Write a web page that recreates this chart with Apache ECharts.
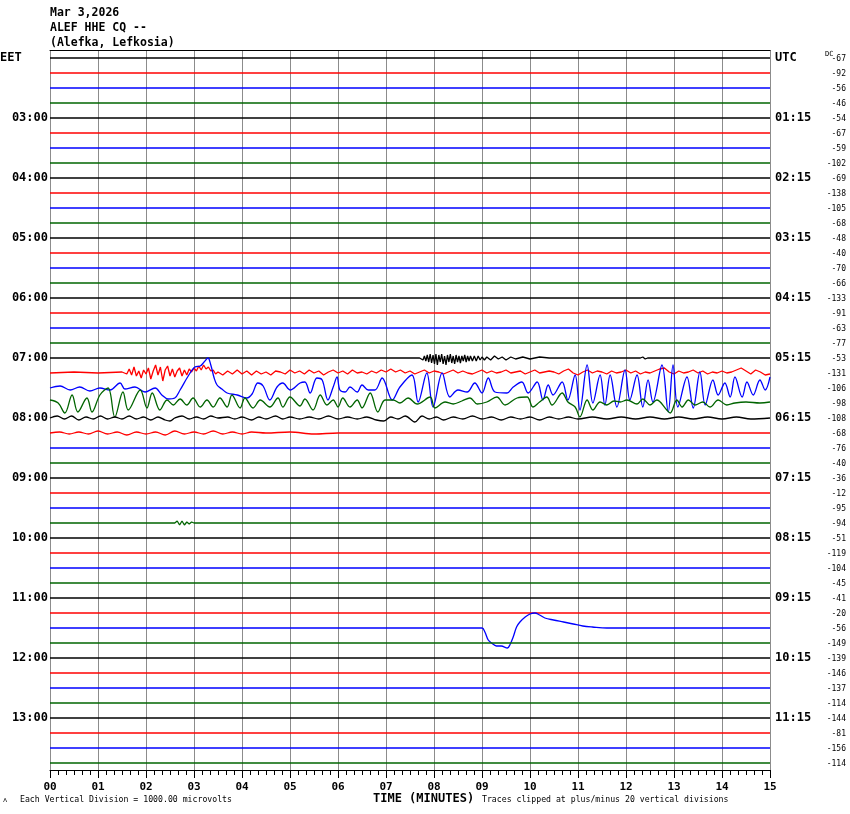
<!DOCTYPE html>
<html>
<head>
<meta charset="utf-8">
<script src="https://cdn.jsdelivr.net/npm/echarts@6/dist/echarts.min.js"></script>
<style>
html,body{margin:0;padding:0;background:#fff;}
#chart{width:850px;height:814px;}
</style>
</head>
<body>
<div id="chart"></div>
<script>
// ---------- DATA ----------
const titleLines = ['Mar 3,2026', 'ALEF HHE CQ --', '(Alefka, Lefkosia)'];
const eetLabels = ['EET', '03:00', '04:00', '05:00', '06:00', '07:00', '08:00', '09:00', '10:00', '11:00', '12:00', '13:00'];
const utcLabels = ['UTC', '01:15', '02:15', '03:15', '04:15', '05:15', '06:15', '07:15', '08:15', '09:15', '10:15', '11:15'];
const dcValues = [-67, -92, -56, -46, -54, -67, -59, -102, -69, -138, -105, -68,
  -48, -40, -70, -66, -133, -91, -63, -77, -53, -131, -106, -98,
  -108, -68, -76, -40, -36, -12, -95, -94, -51, -119, -104, -45,
  -41, -20, -56, -149, -139, -146, -137, -114, -144, -81, -156, -114];
const minuteLabels = ['00', '01', '02', '03', '04', '05', '06', '07', '08', '09', '10', '11', '12', '13', '14', '15'];
const traceCount = 48;
const quietTrace = [[0, 0], [15, 0]];

// deflections [minute, amplitude] (positive = up)
const trace0700black = [[0, 0], [7.7, 0], [7.74, 1], [7.77, -2], [7.8, 2], [7.83, -3], [7.86, 3], [7.89, -4], [7.92, 4], [7.95, -5], [7.98, 3], [8.01, -6], [8.04, 4], [8.07, -7], [8.1, 3], [8.13, -4], [8.16, 4], [8.19, -6], [8.22, 2], [8.25, -7], [8.28, 3], [8.31, -4], [8.34, 4], [8.37, -5], [8.4, 2], [8.43, -6], [8.46, 3], [8.49, -4], [8.52, 2], [8.55, -5], [8.58, 2], [8.61, -3], [8.64, 3], [8.67, -4], [8.7, 2], [8.73, -3], [8.76, 2], [8.8, -3], [8.84, 2], [8.88, -3], [8.92, 2], [8.96, -2], [9.0, 1], [9.05, -2], [9.1, 1], [9.18, -2], [9.26, 2], [9.34, -1], [9.42, 1], [9.5, -2], [9.6, 1], [9.7, -1], [9.85, 1], [10.0, -1], [10.2, 1], [10.4, 0], [12.3, 0], [12.35, 1], [12.4, -1], [12.45, 0], [15, 0]];
const trace0715red = [[0, 0], [0.5, 1], [1.0, 0], [1.5, 1], [1.6, -1], [1.65, 4], [1.7, -2], [1.75, 6], [1.8, -3], [1.85, 2], [1.9, -5], [1.95, 3], [2.0, -1], [2.05, 5], [2.1, -6], [2.15, 2], [2.2, 8], [2.25, -2], [2.3, 6], [2.35, -8], [2.4, 3], [2.45, 7], [2.5, -3], [2.55, 4], [2.6, -4], [2.65, 2], [2.7, 5], [2.75, -3], [2.8, 3], [2.85, -2], [2.9, 4], [2.95, 1], [3.0, 5], [3.05, 2], [3.1, 7], [3.15, 3], [3.2, 8], [3.25, 4], [3.3, 6], [3.35, 2], [3.4, 3], [3.45, -1], [3.5, 1], [3.6, -2], [3.7, 2], [3.8, -1], [3.9, 3], [4.0, -1], [4.1, 2], [4.2, -2], [4.3, 2], [4.4, -1], [4.5, 1], [4.6, -2], [4.7, 2], [4.8, 1], [4.9, -1], [5.0, 3], [5.1, 0], [5.2, 2], [5.3, -1], [5.4, 3], [5.5, 0], [5.6, 2], [5.7, -2], [5.8, 1], [5.9, 3], [6.0, 0], [6.1, 2], [6.2, -1], [6.3, 3], [6.4, 0], [6.5, 1], [6.6, -1], [6.7, 2], [6.8, 0], [6.9, 3], [7.0, 1], [7.1, 4], [7.2, 1], [7.3, 3], [7.4, 0], [7.5, 2], [7.6, -1], [7.7, 1], [7.8, 3], [7.9, 0], [8.0, 2], [8.1, 1], [8.2, -1], [8.3, 1], [8.4, 3], [8.5, 0], [8.6, 2], [8.7, 0], [8.8, -1], [8.9, 1], [9.0, 3], [9.1, 0], [9.2, 2], [9.3, 0], [9.4, 1], [9.5, 3], [9.6, 0], [9.8, 2], [9.9, -1], [10.0, 1], [10.1, 3], [10.2, 0], [10.4, 2], [10.5, 1], [10.6, -1], [10.7, 2], [10.8, 4], [10.9, 0], [11.0, -2], [11.1, 1], [11.2, 3], [11.3, 0], [11.4, 2], [11.5, 1], [11.6, -1], [11.7, 2], [11.8, 0], [11.9, 1], [12.0, 3], [12.1, 0], [12.2, 2], [12.3, -1], [12.4, 1], [12.5, 0], [12.6, 2], [12.7, 4], [12.8, 5], [12.9, 1], [13.0, -1], [13.1, 2], [13.2, 0], [13.3, 1], [13.4, 3], [13.5, 0], [13.6, 2], [13.7, -1], [13.8, 1], [13.9, 0], [14.0, 2], [14.1, 0], [14.2, 1], [14.3, 3], [14.4, 5], [14.5, 2], [14.6, -1], [14.7, 3], [14.8, 1], [14.9, -2], [15, -1]];
const trace0730blue = [[0, 0], [0.21, 2], [0.42, -2], [0.62, 1], [0.83, -3], [1.04, 0], [1.25, -2], [1.46, 5], [1.56, -1], [1.77, 1], [1.98, -4], [2.19, 0], [2.33, -7], [2.46, -11], [2.6, -10], [2.71, -2], [2.88, 12], [3.02, 21], [3.13, 22], [3.21, 26], [3.29, 30], [3.35, 23], [3.42, 10], [3.48, 3], [3.58, -1], [3.69, -5], [3.9, -7], [4.1, -10], [4.21, -6], [4.33, 5], [4.44, 2], [4.58, -12], [4.73, 1], [4.85, 5], [5.0, -2], [5.21, 5], [5.31, 6], [5.42, -5], [5.56, 10], [5.67, 8], [5.79, -12], [5.9, 1], [5.98, 11], [6.04, -2], [6.15, -4], [6.25, 1], [6.4, -4], [6.5, 3], [6.63, -2], [6.77, -2], [6.92, 10], [7.13, -12], [7.29, 1], [7.54, 13], [7.67, -14], [7.85, 15], [7.98, -19], [8.17, 15], [8.33, -9], [8.5, -2], [8.69, -4], [8.85, 5], [9.0, -5], [9.13, 10], [9.27, -4], [9.52, -5], [9.65, 1], [9.83, 6], [9.96, -5], [10.15, 6], [10.27, -12], [10.38, 3], [10.48, -7], [10.67, 6], [10.79, -12], [10.94, 13], [11.04, -22], [11.19, 23], [11.31, -15], [11.46, 13], [11.56, -17], [11.67, 13], [11.81, -19], [11.98, 18], [12.08, -12], [12.23, 13], [12.35, -19], [12.46, 8], [12.56, -14], [12.75, 23], [12.88, -24], [12.98, 23], [13.08, -19], [13.27, 11], [13.4, -20], [13.54, 16], [13.65, -17], [13.81, 8], [13.92, -7], [14.06, 5], [14.17, -9], [14.27, 11], [14.42, -9], [14.52, 6], [14.65, -7], [14.79, 8], [14.9, -2], [15, 11]];
const trace0745green = [[0, 3], [0.17, 0], [0.31, -10], [0.46, 8], [0.58, -9], [0.77, 5], [0.875, -9], [1.04, 8], [1.21, 15], [1.35, -14], [1.52, 11], [1.63, -7], [1.88, 13], [2.02, -5], [2.13, 10], [2.29, -7], [2.44, 3], [2.57, -2], [2.71, 4], [2.85, -2], [2.98, 5], [3.13, -4], [3.27, 3], [3.4, -4], [3.54, 5], [3.69, -4], [3.79, 8], [3.96, -5], [4.06, 5], [4.23, -5], [4.38, 3], [4.58, -4], [4.75, 5], [4.85, -4], [5.0, 6], [5.21, -3], [5.31, 4], [5.48, -7], [5.63, 8], [5.77, -2], [5.9, 3], [6.0, -4], [6.1, 5], [6.25, -4], [6.4, 3], [6.5, -5], [6.67, 10], [6.83, -9], [6.98, 3], [7.15, 3], [7.29, 0], [7.46, 5], [7.65, -1], [7.92, 6], [8.02, -5], [8.23, 1], [8.4, -1], [8.58, 2], [8.75, 5], [8.9, -1], [9.1, 1], [9.31, 6], [9.48, -2], [9.73, 5], [9.94, 6], [10.06, -4], [10.2, 1], [10.35, 6], [10.46, -2], [10.67, 10], [10.79, 1], [10.94, -4], [11.04, -14], [11.19, 3], [11.31, -7], [11.46, 1], [11.6, -2], [11.75, 2], [11.88, 1], [12.02, 3], [12.23, -1], [12.35, 4], [12.5, -2], [12.64, 3], [12.85, -7], [12.92, -10], [13.06, 3], [13.17, -4], [13.3, 3], [13.44, -2], [13.6, 1], [13.75, -4], [13.92, 3], [14.1, -2], [14.27, 0], [14.5, 1], [14.79, 0], [15, 1]];
const trace0800black = [[0, 0], [0.15, 2], [0.3, -1], [0.45, 2], [0.6, -2], [0.75, 1], [0.9, -1], [1.05, 2], [1.2, -1], [1.35, 1], [1.5, -1], [1.65, 2], [1.8, -1], [1.95, 1], [2.1, -2], [2.25, 1], [2.4, -2], [2.5, -3], [2.6, 0], [2.75, 2], [2.9, -1], [3.05, 1], [3.2, -1], [3.35, 2], [3.5, 0], [3.7, 1], [3.85, -1], [4.0, 1], [4.2, -2], [4.35, 1], [4.5, -1], [4.7, 2], [4.85, -1], [5.0, 1], [5.2, -1], [5.4, 1], [5.6, -1], [5.8, 2], [6.0, -1], [6.2, 1], [6.4, -1], [6.6, 1], [6.8, -2], [6.95, -3], [7.1, 1], [7.25, -1], [7.4, 2], [7.6, -4], [7.75, 2], [7.9, -1], [8.05, 1], [8.2, -2], [8.4, 1], [8.6, -1], [8.8, 2], [9.0, -1], [9.2, 1], [9.4, -2], [9.6, 1], [9.8, -1], [10.0, 1], [10.2, -2], [10.4, 1], [10.6, -1], [10.8, 1], [11.0, -1], [11.3, 1], [11.6, -1], [11.9, 1], [12.2, -1], [12.5, 1], [12.8, -1], [13.1, 1], [13.4, -1], [13.7, 1], [14.0, -1], [14.3, 1], [14.6, -1], [15, 0]];
const trace0815red = [[0, 0], [0.2, 1], [0.4, -1], [0.6, 1], [0.8, -1], [1.0, 2], [1.2, -1], [1.4, 1], [1.6, -2], [1.8, 1], [2.0, -1], [2.2, 1], [2.4, -2], [2.6, 2], [2.8, -1], [3.0, 1], [3.2, -1], [3.4, 2], [3.6, -1], [3.8, 1], [4.0, -1], [4.2, 1], [4.5, 0], [5.0, 1], [5.5, -1], [6.0, 0], [15, 0]];
const trace0945green = [[0, 0], [2.6, 0], [2.65, 2], [2.7, -2], [2.75, 2], [2.8, -2], [2.85, 1], [2.9, -1], [2.95, 1], [3.0, 0], [15, 0]];
const trace1130blue = [[0, 0], [9.0, 0], [9.06, -4], [9.13, -12], [9.2, -15], [9.3, -18], [9.4, -18], [9.53, -20], [9.58, -17], [9.65, -9], [9.72, 1], [9.79, 6], [9.9, 11], [10.0, 14], [10.1, 15], [10.2, 13], [10.31, 10], [10.49, 8], [10.7, 6], [10.9, 4], [11.1, 2], [11.3, 1], [11.6, 0], [15, 0]];
const activeTraces = {20: trace0700black, 21: trace0715red, 22: trace0730blue, 23: trace0745green,
  24: trace0800black, 25: trace0815red, 31: trace0945green, 38: trace1130blue};
const smoothTraces = [22, 23, 24, 25, 38];

// ---------- CHART ----------
const rowStep = 15;
const colors = ['#000000', '#ff0000', '#0000ff', '#006400'];
const mono = "'DejaVu Sans Mono', 'Liberation Mono', monospace";
const chart = echarts.init(document.getElementById('chart'), null, {renderer: 'canvas'});

const series = [];
for (let i = 0; i < traceCount; i++) {
  const src = activeTraces[i] || quietTrace;
  series.push({
    type: 'line', silent: true, showSymbol: false, animation: false,
    smooth: smoothTraces.indexOf(i) >= 0 ? 0.35 : false,
    lineStyle: {color: colors[i % 4], width: 1.3},
    data: src.map(p => [p[0], i * rowStep - p[1]])
  });
}

chart.setOption({
  backgroundColor: '#ffffff',
  animation: false,
  grid: {left: 50, right: 80, top: 50, bottom: 44},
  xAxis: [{
    type: 'value', min: 0, max: 15, interval: 1, position: 'bottom',
    axisLine: {show: true, onZero: false, lineStyle: {color: '#000', width: 1}},
    axisTick: {show: true, length: 8, lineStyle: {color: '#000'}},
    minorTick: {show: true, splitNumber: 6, length: 5, lineStyle: {color: '#000'}},
    axisLabel: {formatter: v => minuteLabels[v], fontFamily: mono, fontWeight: 'bold', fontSize: 11, color: '#000', margin: 12},
    splitLine: {show: true, lineStyle: {color: '#8c8c8c', width: 1}}
  }, {
    type: 'value', min: 0, max: 15, position: 'top',
    axisLine: {show: true, onZero: false, lineStyle: {color: '#000', width: 1}},
    axisTick: {show: false}, axisLabel: {show: false}, splitLine: {show: false}
  }],
  yAxis: {
    type: 'value', inverse: true, min: -8, max: 712,
    axisLine: {show: false}, axisTick: {show: false}, axisLabel: {show: false}, splitLine: {show: false}
  },
  series: series
});

// ---------- TEXT ----------
const g = [];
const txt = (text, x, y, opt) => g.push({type: 'text', silent: true, x: x, y: y,
  style: Object.assign({text: text, fill: '#000', fontFamily: mono, fontSize: 11, textVerticalAlign: 'middle', textAlign: 'left'}, opt)});

titleLines.forEach((t, k) => txt(t, 50, 13 + 15 * k, {fontWeight: 'bold', fontSize: 11.5}));

for (let k = 0; k < eetLabels.length; k++) {
  const row = k * 4;
  const py = chart.convertToPixel({yAxisIndex: 0}, row * rowStep);
  txt(eetLabels[k], k === 0 ? 0 : 48, py, {fontWeight: 'bold', fontSize: 12, textAlign: k === 0 ? 'left' : 'right'});
  txt(utcLabels[k], 775, py, {fontWeight: 'bold', fontSize: 12, textAlign: 'left'});
}
for (let i = 0; i < traceCount; i++) {
  const py = chart.convertToPixel({yAxisIndex: 0}, i * rowStep);
  txt(String(dcValues[i]), 846, py + 1, {fontSize: 8, textAlign: 'right'});
}
txt('DC', 825, 54, {fontSize: 7});

txt('\u028c', 3, 800, {fontSize: 7});
txt('Each Vertical Division = 1000.00 microvolts', 20, 800, {fontSize: 8.2});
txt('TIME (MINUTES)', 373, 799, {fontWeight: 'bold', fontSize: 12});
txt('Traces clipped at plus/minus 20 vertical divisions', 482, 800, {fontSize: 8.2});

chart.setOption({graphic: g});
</script>
</body>
</html>
